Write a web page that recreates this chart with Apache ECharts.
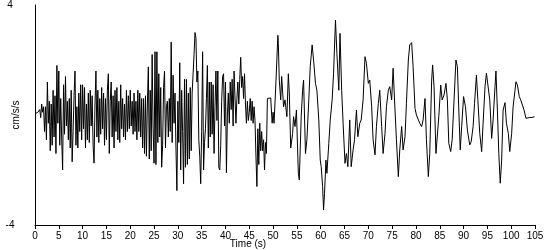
<!DOCTYPE html>
<html>
<head>
<meta charset="utf-8">
<script src="https://cdn.jsdelivr.net/npm/echarts@6/dist/echarts.min.js"></script>
<style>
html,body{margin:0;padding:0;background:#fff;}
#chart{width:550px;height:250px;}
</style>
</head>
<body>
<div id="chart"></div>
<script>
// Early high-frequency part: samples every 0.2 s starting at 0 s (cm/s/s)
const noiseStep = 0.2;
const noiseValues = [
  0.05,0.08,0.02,0.1,0.05,
  0.2,-0.1,0.4,0.1,0.3,
  -0.6,0.3,-0.9,1.2,-0.3,
  0.5,-1.3,0.4,-1.1,0.9,
  -0.8,0.7,-1.4,1.8,-0.3,
  1.6,-1.1,0.6,-0.8,-2.0,
  1.1,-0.7,1.4,-0.4,0.5,
  -0.9,0.6,-1.2,0.9,-1.7,
  -0.6,0.7,1.6,-1.1,0.3,
  -1.2,0.8,-0.6,1.1,-0.9,
  1.1,-0.5,1.0,-1.2,0.4,
  -0.9,0.8,-1.0,0.9,-0.4,
  0.7,-1.1,-1.75,0.4,1.6,
  -0.8,0.9,-1.0,0.6,-0.7,
  1.0,-0.5,0.8,-1.1,0.6,
  -0.9,0.9,1.5,-1.4,0.5,
  1.2,-0.8,0.7,-1.2,0.9,
  -0.6,1.0,-0.9,0.5,-1.0,
  1.1,-0.5,0.6,-0.8,0.4,
  -0.9,0.9,-0.6,0.7,-0.5,
  0.9,-0.4,0.5,-0.7,0.8,
  -0.6,0.5,-0.9,0.9,-0.6,
  0.8,-0.8,0.6,-1.2,0.6,
  -1.4,0.7,-1.5,0.4,1.75,
  -1.6,0.9,-1.3,2.2,-0.5,
  -1.75,2.3,-1.8,2.3,-1.0,
  1.5,-0.8,1.0,-1.9,-1.1,
  1.0,1.6,-1.2,0.3,0.5,
  -0.8,0.6,-0.6,2.65,-1.0,
  1.45,-0.3,0.8,-1.2,-2.75,
  0.5,-1.0,1.9,-2.0,0.9,
  -0.6,-2.5,1.3,-1.9,1.3,
  -1.8,0.8,-1.6,1.0,-1.3,
  0.8,1.5,2.2,3.0,2.8,
  1.2,1.6,-0.9,-1.5,-2.5,
  -0.6,2.3,-2.0,-1.0,-0.5,
  0.6,1.8,-1.2,1.2,-0.8,
  1.2,-0.7,1.1,-1.4,0.3,
  1.6,-0.2,1.6,-1.9,-2.0,
  -1.1,0.5,1.4,1.5,-0.4,
  1.2,-2.1,0.0,0.8,-0.3,
  1.2,0.2,1.3,-0.4,1.6,
  1.65,-0.3,0.6,1.2,0.4,
  1.3,2.1,1.0,1.4,0.6,
  1.5,0.4,-0.3,0.5,-0.2,
  0.1,0.6,-0.2,0.5,-0.3,
  0.3,-0.2,-1.5,-2.6,-0.5,
  -1.8,-0.3,-1.3,-0.6,-1.3,
  -0.9,-2.0,-1.0,-1.4,0.6
];

// Later, longer-period part: read turning points (s)
const waveTimes = [
  49.5,49.8,50.0,50.2,50.6,51.0,51.1,51.3,51.6,51.8,52.2,52.5,52.9,53.2,53.4,53.7,54.1,54.3,54.6,54.9,
  55.3,55.5,55.9,56.2,56.4,56.8,57.1,57.5,57.8,58.2,58.5,58.9,59.2,59.6,59.9,60.1,60.4,60.6,60.8,61.1,
  61.3,61.7,62.0,62.4,62.7,63.1,63.4,63.8,64.05,64.4,64.7,65.1,65.4,65.7,66.1,66.4,66.8,67.1,67.5,67.8,
  68.2,68.5,68.9,69.3,69.6,70.0,70.3,70.7,71.0,71.4,71.7,72.1,72.4,72.8,73.1,73.5,73.8,74.2,74.5,74.9,
  75.2,75.6,75.9,76.3,76.6,77.0,77.3,77.7,78.0,78.4,78.7,79.1,79.4,79.8,80.1,80.5,80.8,81.2,81.5,81.9,
  82.2,82.6,82.9,83.3,83.5,83.8,84.2,84.5,84.8,85.2,85.5,85.9,86.3,86.6,86.9,87.3,87.6,88.0,88.4,88.7,
  89.0,89.3,89.6,90.0,90.4,90.8,91.3,91.6,92.0,92.3,92.7,93.0,93.4,93.8,94.1,94.5,94.8,95.2,95.5,95.9,
  96.2,96.6,96.8,97.1,97.4,97.7,98.0,98.3,98.7,99.0,99.4,99.7,100.1,100.4,100.8,101.0,101.3,101.7,102.0,102.4,
  102.7,103.1,103.5,103.9,104.4,104.9
];
// Acceleration at those times (cm/s/s)
const waveValues = [
  0.62,-0.3,0.1,-0.3,1.2,2.9,2.6,1.27,0.55,1.4,0.3,0.55,-0.06,1.5,0.8,-1.2,-0.67,-0.06,-0.42,0.18,
  -2.12,-2.36,-0.06,0.9,1.27,-1.4,-0.9,0.55,1.76,2.55,2.0,1.15,0.9,-0.18,-1.64,-1.88,-2.6,-3.45,-2.85,-1.64,
  -2.12,-1.03,-0.18,0.55,1.52,3.45,2.24,0.9,2.97,0.9,-0.3,-1.76,-1.4,-1.88,-0.18,-1.88,-1.27,-0.9,0.18,-0.79,
  -0.3,-0.18,0.55,2.12,1.88,1.15,1.27,0.3,-0.9,-1.45,-0.42,0.42,0.9,-0.42,-1.4,-0.67,0.3,0.9,1.03,0.55,
  1.7,0.18,-0.9,-2.24,-1.27,-0.42,-1.27,-0.79,0.42,2.0,2.55,2.63,1.76,0.24,0.0,0.06,-0.3,-0.42,-0.18,0.6,
  -0.9,-2.24,-1.4,1.27,1.82,1.03,-1.4,-1.45,-0.06,1.09,0.55,0.73,1.15,0.55,-1.03,-1.33,-0.9,0.55,2.0,1.76,
  0.18,-1.27,-0.42,0.67,0.3,-0.55,-1.09,-0.97,-0.42,0.42,1.45,0.55,-0.67,-1.33,-0.3,1.03,1.52,1.54,0.55,-0.85,
  -0.18,1.03,1.6,0.18,-1.4,-2.48,-1.64,0.18,0.45,-0.3,-0.67,-1.33,-0.67,0.3,0.9,1.21,1.09,0.67,0.55,0.48,
  0.18,-0.12,-0.12,-0.09,-0.09,-0.06
];

const xTicks = { min: 0, max: 105, step: 5 };
const yTicks = { min: -4, max: 4, step: 8 };

const seriesData = noiseValues.map((v, i) => [+(i * noiseStep).toFixed(2), v])
  .concat(waveTimes.map((t, i) => [t, waveValues[i]]));

const font = 'Liberation Sans';
const chart = echarts.init(document.getElementById('chart'), null, { renderer: 'canvas' });
chart.setOption({
  animation: false,
  backgroundColor: '#ffffff',
  grid: { left: 35, right: 15, top: 5, bottom: 25, containLabel: false, outerBoundsMode: 'none' },
  xAxis: {
    type: 'value',
    min: xTicks.min, max: xTicks.max, interval: xTicks.step,
    name: 'Time (s)',
    nameLocation: 'middle',
    nameGap: 14,
    nameMoveOverlap: false,
    nameTextStyle: { color: '#000', fontFamily: font, fontSize: 10, padding: [0, 74, 0, 0] },
    axisLine: { show: true, onZero: false, lineStyle: { color: '#000', width: 1 } },
    axisTick: { show: true, inside: false, length: 4, lineStyle: { color: '#000' } },
    axisLabel: { color: '#000', fontFamily: font, fontSize: 10, margin: 6 },
    splitLine: { show: false }
  },
  yAxis: {
    type: 'value',
    min: yTicks.min, max: yTicks.max, interval: yTicks.step,
    name: 'cm/s/s',
    nameLocation: 'middle',
    nameGap: 14,
    nameRotate: 90,
    nameMoveOverlap: false,
    nameTextStyle: { color: '#000', fontFamily: font, fontSize: 10 },
    axisLine: { show: true, onZero: false, lineStyle: { color: '#000', width: 1 } },
    axisTick: { show: false },
    axisLabel: { color: '#000', fontFamily: font, fontSize: 10, margin: 25, align: 'center' },
    splitLine: { show: false }
  },
  series: [{
    type: 'line',
    data: seriesData,
    showSymbol: false,
    symbol: 'none',
    sampling: null,
    lineStyle: { color: '#000', width: 1 },
    clip: false
  }]
});
</script>
</body>
</html>
